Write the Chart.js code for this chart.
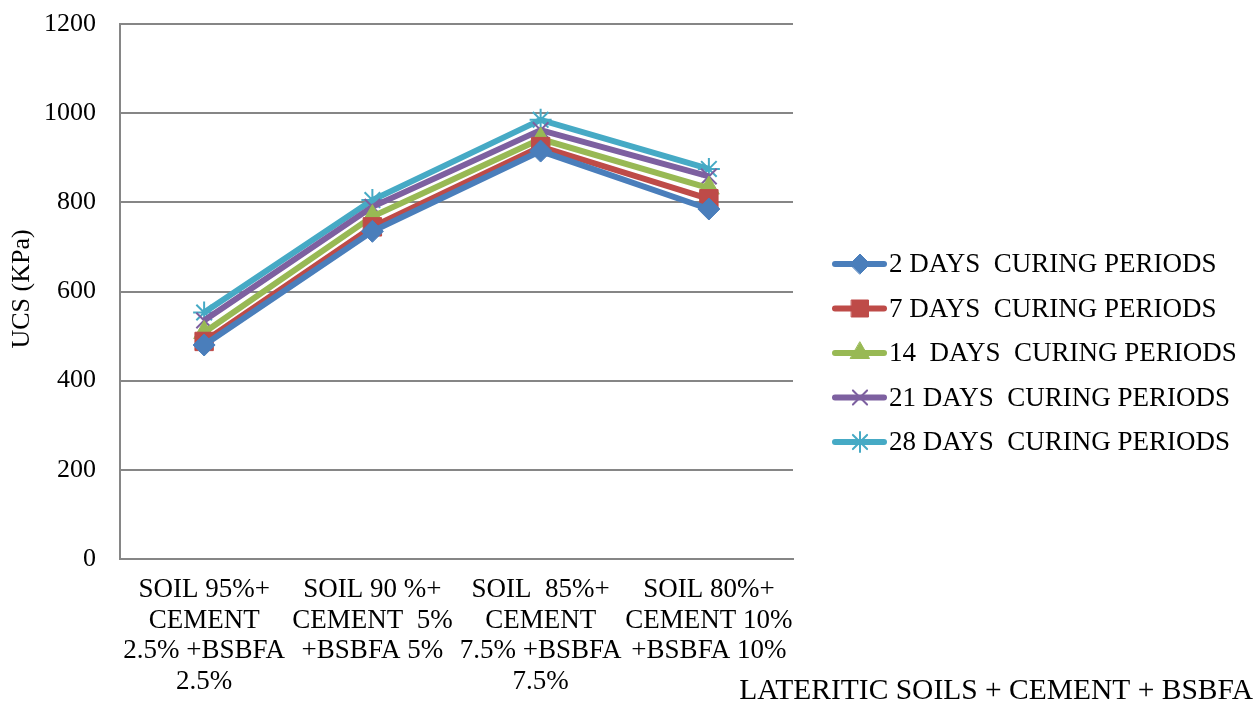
<!DOCTYPE html>
<html>
<head>
<meta charset="utf-8">
<script src="https://cdn.jsdelivr.net/npm/chart.js@4.4.0/dist/chart.umd.min.js"></script>
<style>
  html, body { margin: 0; padding: 0; background: #fff; }
  #wrap { width: 1257px; height: 704px; position: relative; }
</style>
</head>
<body>
<div id="wrap"><canvas id="ucsChart"></canvas></div>
<script>
// categories (x axis), multi-line labels
const categories = [
  ['SOIL 95%+', 'CEMENT', '2.5% +BSBFA', '2.5%'],
  ['SOIL 90 %+', 'CEMENT  5%', '+BSBFA 5%'],
  ['SOIL  85%+', 'CEMENT', '7.5% +BSBFA', '7.5%'],
  ['SOIL 80%+', 'CEMENT 10%', '+BSBFA 10%']
];

// series values (KPa)
const days2  = [480, 735, 915, 785];
const days7  = [488, 745, 925, 808];
const days14 = [508, 768, 942, 832];
const days21 = [535, 790, 962, 858];
const days28 = [553, 805, 985, 875];

const seriesLabels = [
  '2 DAYS  CURING PERIODS',
  '7 DAYS  CURING PERIODS',
  '14  DAYS  CURING PERIODS',
  '21 DAYS  CURING PERIODS',
  '28 DAYS  CURING PERIODS'
];

const yTicks = [0, 200, 400, 600, 800, 1000, 1200];

const FONT = '"Liberation Serif", "Times New Roman", serif';

function series(label, values, color, style, radius) {
  return {
    label: label,
    data: values,
    borderColor: color,
    backgroundColor: color,
    borderWidth: 6,
    pointStyle: style,
    pointRadius: radius,
    pointHoverRadius: radius,
    pointBorderWidth: (style === 'crossRot' || style === 'star') ? 2 : 1,
    tension: 0
  };
}

const datasets = [
  series(seriesLabels[0], days2,  '#4a7ebb', 'rectRot', 11),
  series(seriesLabels[1], days7,  '#be4b48', 'rect', 13),
  series(seriesLabels[2], days14, '#98b954', 'triangle', 12),
  series(seriesLabels[3], days21, '#7d60a0', 'crossRot', 11),
  series(seriesLabels[4], days28, '#46aac5', 'star', 11)
];

// legend + axis titles drawn on canvas
const extras = {
  id: 'extras',
  afterDraw(chart) {
    const ctx = chart.ctx;
    ctx.save();
    ctx.textBaseline = 'middle';
    chart.data.datasets.forEach((ds, i) => {
      const y = 264 + i * 44.5;
      ctx.strokeStyle = ds.borderColor;
      ctx.lineWidth = 6;
      ctx.lineCap = 'round';
      ctx.beginPath();
      ctx.moveTo(835, y);
      ctx.lineTo(884, y);
      ctx.stroke();
      ctx.fillStyle = ds.backgroundColor;
      ctx.strokeStyle = ds.borderColor;
      ctx.lineWidth = ds.pointBorderWidth;
      Chart.helpers.drawPoint(ctx, { pointStyle: ds.pointStyle, radius: ds.pointRadius - 1, borderWidth: ds.pointBorderWidth, rotation: 0 }, 860, y);
      ctx.font = '27px ' + FONT;
      ctx.fillStyle = '#000';
      ctx.textAlign = 'left';
      ctx.fillText(ds.label, 889, y + 1);
    });
    ctx.font = '29.5px ' + FONT;
    ctx.textAlign = 'right';
    ctx.fillText('LATERITIC SOILS + CEMENT + BSBFA', 1253, 691);
    ctx.font = '26px ' + FONT;
    ctx.translate(22, 289);
    ctx.rotate(-Math.PI / 2);
    ctx.textAlign = 'center';
    ctx.fillText('UCS (KPa)', 0, 0);
    ctx.restore();
  }
};

new Chart(document.getElementById('ucsChart'), {
  type: 'line',
  data: { labels: categories, datasets: datasets },
  plugins: [extras],
  options: {
    responsive: true,
    maintainAspectRatio: false,
    animation: false,
    layout: { padding: { top: 24, right: 464, left: 0, bottom: 0 } },
    plugins: {
      legend: { display: false },
      tooltip: { enabled: false }
    },
    scales: {
      x: {
        offset: true,
        grid: { display: false, drawTicks: false },
        border: { color: '#868686', width: 2 },
        ticks: {
          color: '#000',
          font: { family: FONT, size: 27, lineHeight: 1.13 },
          padding: 16,
          maxRotation: 0,
          autoSkip: false
        },
        afterFit(scale) {
          scale.height = 145;
          scale.paddingLeft = 0;
          scale.paddingRight = 0;
        }
      },
      y: {
        min: 0,
        max: 1200,
        afterBuildTicks(scale) { scale.ticks = yTicks.map(v => ({ value: v })); },
        grid: { color: '#868686', lineWidth: 2, drawTicks: false },
        border: { color: '#868686', width: 2 },
        ticks: {
          color: '#000',
          font: { family: FONT, size: 26 },
          padding: 24,
          callback: v => String(v)
        },
        afterFit(scale) {
          scale.width = 120;
          scale.paddingTop = 0;
          scale.paddingBottom = 0;
        }
      }
    }
  }
});
</script>
</body>
</html>
